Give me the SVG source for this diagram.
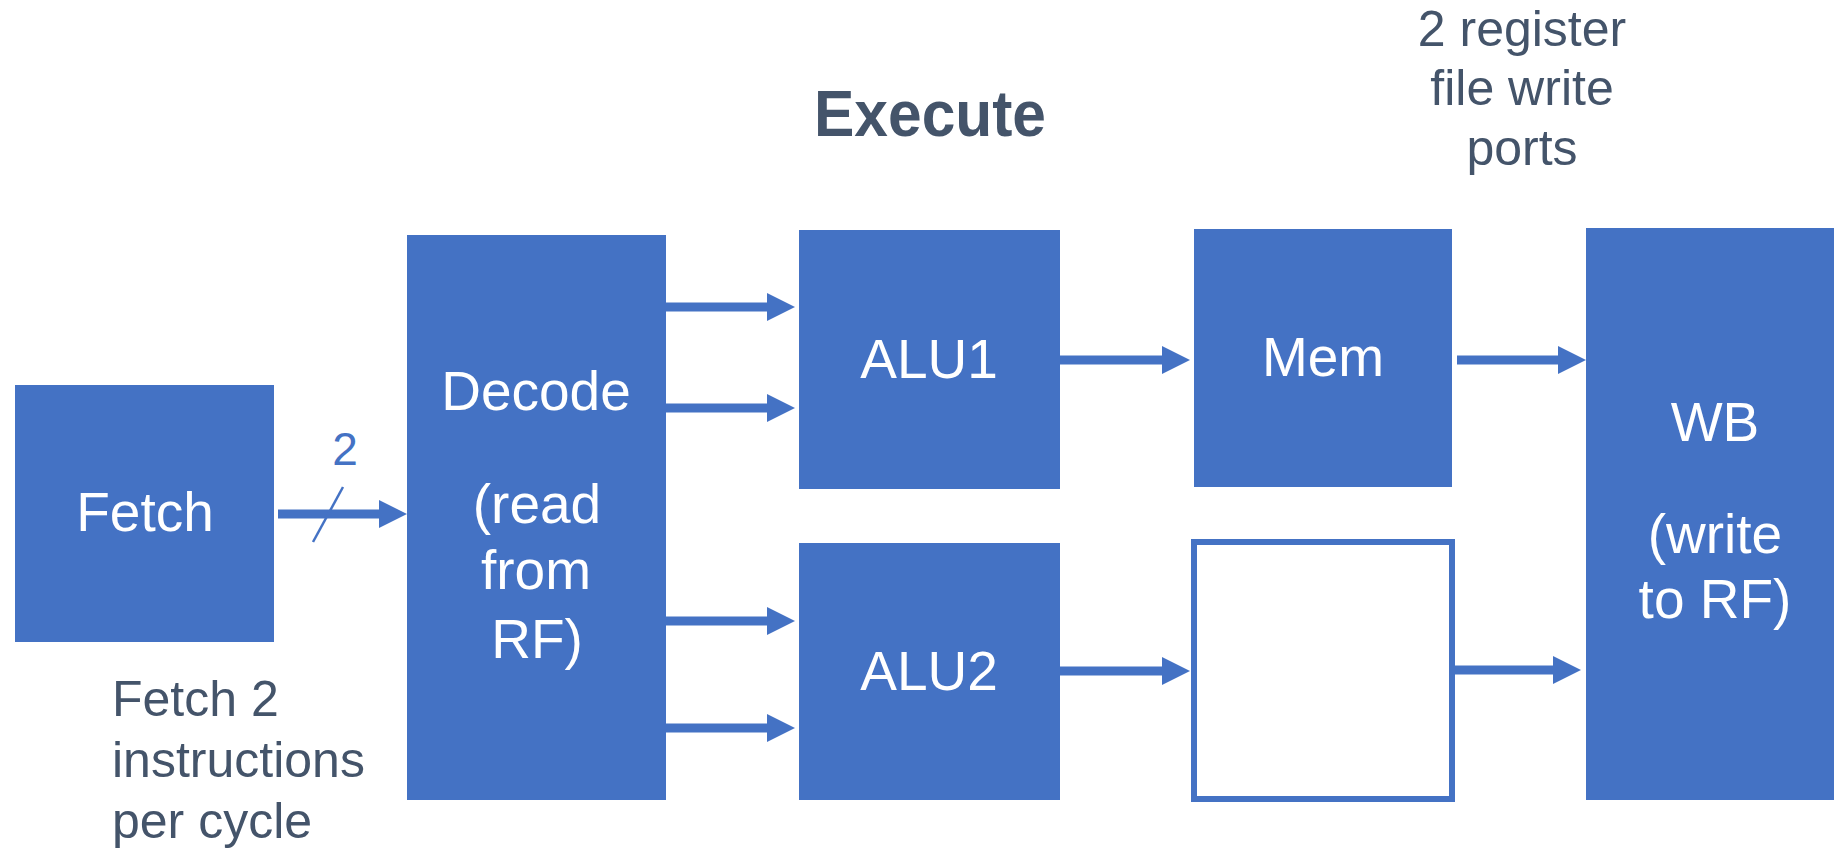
<svg xmlns="http://www.w3.org/2000/svg" width="1834" height="849" viewBox="0 0 1834 849">
<style>
.box{fill:#4472C4}
.lbl{font-family:"Liberation Sans",Arial,sans-serif;font-size:55px;fill:#FFFFFF;text-anchor:middle}
.note{font-family:"Liberation Sans",Arial,sans-serif;font-size:50px;fill:#44546A}
.wire{stroke:#4472C4;stroke-width:9;fill:none}
</style>
<defs>
<marker id="ah" markerUnits="userSpaceOnUse" markerWidth="28" markerHeight="28" refX="1" refY="14" orient="auto" overflow="visible">
<path d="M0,0 L28,14 L0,28 Z" fill="#4472C4"/>
</marker>
</defs>
<rect width="1834" height="849" fill="#FFFFFF"/>
<text x="930" y="136" font-family="Liberation Sans,Arial,sans-serif" font-weight="bold" font-size="64" fill="#44546A" text-anchor="middle" textLength="232" lengthAdjust="spacingAndGlyphs">Execute</text>
<g id="note-ports" class="note" text-anchor="middle">
<text x="1522" y="46" text-anchor="middle">2 register</text>
<text x="1522" y="105" text-anchor="middle">file write</text>
<text x="1522" y="165" text-anchor="middle">ports</text>
</g>
<g id="note-fetch" class="note">
<text x="112" y="716">Fetch 2</text>
<text x="112" y="777">instructions</text>
<text x="112" y="838">per cycle</text>
</g>
<g id="fetch">
<rect class="box" x="15" y="385" width="259" height="257"/>
<text class="lbl" x="145" y="531">Fetch</text>
</g>
<g id="decode">
<rect class="box" x="407" y="235" width="259" height="565"/>
<text class="lbl" x="536" y="410">Decode</text>
<text class="lbl" x="537" y="523">(read</text>
<text class="lbl" x="536" y="589">from</text>
<text class="lbl" x="537" y="658">RF)</text>
</g>
<g id="alu1">
<rect class="box" x="799" y="230" width="261" height="259"/>
<text class="lbl" x="929" y="378">ALU1</text>
</g>
<g id="alu2">
<rect class="box" x="799" y="543" width="261" height="257"/>
<text class="lbl" x="929" y="690">ALU2</text>
</g>
<g id="mem">
<rect class="box" x="1194" y="229" width="258" height="258"/>
<text class="lbl" x="1323" y="376">Mem</text>
</g>
<g id="empty">
<rect x="1194" y="542" width="258" height="257" fill="#FFFFFF" stroke="#4472C4" stroke-width="6"/>
</g>
<g id="wb">
<rect class="box" x="1586" y="228" width="248" height="572"/>
<text class="lbl" x="1715" y="441">WB</text>
<text class="lbl" x="1715" y="553">(write</text>
<text class="lbl" x="1715" y="618">to RF)</text>
</g>
<g id="connectors">
<line class="wire" x1="278" y1="514" x2="380" y2="514" marker-end="url(#ah)"/>
<line x1="343" y1="487" x2="313" y2="542" stroke="#4472C4" stroke-width="2.5"/>
<text x="345" y="465" font-family="Liberation Sans,Arial,sans-serif" font-size="46" fill="#4472C4" text-anchor="middle">2</text>
<line class="wire" x1="666" y1="307" x2="768" y2="307" marker-end="url(#ah)"/>
<line class="wire" x1="666" y1="408" x2="768" y2="408" marker-end="url(#ah)"/>
<line class="wire" x1="666" y1="621" x2="768" y2="621" marker-end="url(#ah)"/>
<line class="wire" x1="666" y1="728" x2="768" y2="728" marker-end="url(#ah)"/>
<line class="wire" x1="1060" y1="360" x2="1163" y2="360" marker-end="url(#ah)"/>
<line class="wire" x1="1060" y1="671" x2="1163" y2="671" marker-end="url(#ah)"/>
<line class="wire" x1="1457" y1="360" x2="1559" y2="360" marker-end="url(#ah)"/>
<line class="wire" x1="1455" y1="670" x2="1554" y2="670" marker-end="url(#ah)"/>
</g>
</svg>
